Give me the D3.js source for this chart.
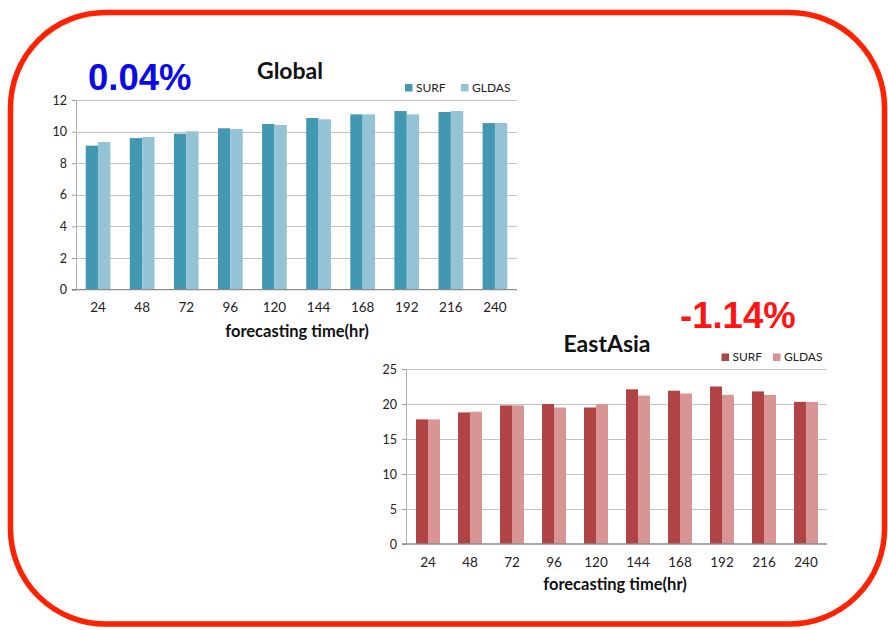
<!DOCTYPE html>
<html>
<head>
<meta charset="utf-8">
<script src="https://cdn.jsdelivr.net/npm/d3@7"></script>
<style>
  html, body { margin: 0; padding: 0; background: #fff; }
  svg { display: block; }
</style>
</head>
<body>
<svg id="chart" width="888" height="630"></svg>
<script>
// ---- data ----
const categories = ["24","48","72","96","120","144","168","192","216","240"];
const seriesNames = ["SURF","GLDAS"];
const globalSURF  = [9.11, 9.59, 9.87, 10.21, 10.48, 10.86, 11.09, 11.30, 11.24, 10.54];
const globalGLDAS = [9.34, 9.66, 10.02, 10.16, 10.42, 10.78, 11.09, 11.09, 11.30, 10.54];
const eastSURF    = [17.8, 18.8, 19.8, 20.0, 19.5, 22.1, 21.9, 22.5, 21.8, 20.3];
const eastGLDAS   = [17.8, 18.9, 19.8, 19.5, 20.0, 21.2, 21.5, 21.3, 21.3, 20.3];
const globalTicks = [0, 2, 4, 6, 8, 10, 12];
const eastTicks   = [0, 5, 10, 15, 20, 25];
const globalPct = "0.04%";
const eastPct = "-1.14%";

const svg = d3.select("#chart");
const FONT = "Lato, 'Open Sans', sans-serif";

// frame
svg.append("rect")
  .attr("x", 10.5).attr("y", 12.5).attr("width", 874).attr("height", 611.5)
  .attr("rx", 95).attr("ry", 95)
  .attr("fill", "#fff").attr("stroke", "#ff2200").attr("stroke-width", 5.5);

function drawChart(cfg) {
  const g = svg.append("g");
  const x0 = d3.scaleBand().domain(categories).range([cfg.left, cfg.right])
    .paddingInner(cfg.pin).paddingOuter(cfg.pout);
  const x1 = d3.scaleBand().domain(seriesNames).range([0, x0.bandwidth()]);
  const y = d3.scaleLinear().domain([0, cfg.max]).range([cfg.bottom, cfg.top]);
  const color = d3.scaleOrdinal().domain(seriesNames).range(cfg.colors);

  // gridlines
  g.append("g").selectAll("line").data(cfg.ticks.filter(t => t > 0)).join("line")
    .attr("x1", cfg.axisX).attr("x2", cfg.right)
    .attr("y1", d => Math.round(y(d)) + 0.5).attr("y2", d => Math.round(y(d)) + 0.5)
    .attr("stroke", "#c4c4c4").attr("stroke-width", 1.2);

  // y axis
  const yAxis = d3.axisLeft(y).tickValues(cfg.ticks).tickSize(4).tickPadding(5);
  const ya = g.append("g").attr("transform", `translate(${cfg.axisX},0)`).call(yAxis);
  ya.select(".domain").attr("stroke", "#b0b0b0");
  ya.selectAll(".tick line").attr("stroke", "#a0a0a0");
  ya.selectAll(".tick text").attr("font-family", FONT).attr("font-size", 12.5).attr("fill", "#222");

  // bars
  const rows = categories.map((c, i) => ({ cat: c, vals: [cfg.a[i], cfg.b[i]] }));
  g.append("g").selectAll("g").data(rows).join("g")
    .attr("transform", d => `translate(${x0(d.cat)},0)`)
    .selectAll("rect").data(d => d.vals.map((v, j) => ({ key: seriesNames[j], v })))
    .join("rect")
    .attr("x", d => x1(d.key)).attr("width", x1.bandwidth())
    .attr("y", d => y(d.v)).attr("height", d => y(0) - y(d.v))
    .attr("fill", d => color(d.key));

  // x axis
  const xAxis = d3.axisBottom(x0).tickSize(0).tickPadding(13);
  const xa = g.append("g").attr("transform", `translate(0,${y(0)})`).call(xAxis);
  xa.select(".domain").remove();
  g.append("line").attr("x1", cfg.axisX - 4).attr("x2", cfg.right)
    .attr("y1", y(0)).attr("y2", y(0)).attr("stroke", "#8c8c8c").attr("stroke-width", 1.3);
  xa.selectAll(".tick text").attr("font-family", FONT).attr("font-size", 13.5).attr("fill", "#222");

  // axis title
  g.append("text").attr("x", cfg.xTitleX).attr("y", cfg.xTitleY).attr("text-anchor", "middle")
    .attr("font-family", FONT).attr("font-weight", "bold").attr("font-size", 16.5).attr("fill", "#111")
    .text("forecasting time(hr)");

  // title
  g.append("text").attr("x", cfg.titleX).attr("y", cfg.titleY).attr("text-anchor", "middle")
    .attr("font-family", FONT).attr("font-weight", "bold").attr("font-size", 23).attr("fill", "#111")
    .text(cfg.title);

  // legend
  const lg = g.append("g").selectAll("g").data(seriesNames).join("g")
    .attr("transform", (d, i) => `translate(${cfg.legendX[i]},${cfg.legendY})`);
  lg.append("rect").attr("x", 0).attr("y", -7.5).attr("width", 7.5).attr("height", 7.5)
    .attr("fill", d => color(d));
  lg.append("text").attr("x", 11).attr("y", 0).attr("font-family", FONT).attr("font-size", 12)
    .attr("fill", "#222").text(d => d);

  // percentage
  g.append("text").attr("x", cfg.pctX).attr("y", cfg.pctY)
    .attr("font-family", "'Liberation Sans', Arial, sans-serif").attr("font-weight", "bold")
    .attr("font-size", 36.5).attr("fill", cfg.pctColor).text(cfg.pct);
}

drawChart({
  a: globalSURF, b: globalGLDAS, ticks: globalTicks, max: 12,
  left: 76, right: 517, axisX: 76, top: 100, bottom: 289.6, pin: 0.44, pout: 0.22,
  colors: ["#4298b0", "#93c3d5"],
  title: "Global", titleX: 290, titleY: 79,
  xTitleX: 297, xTitleY: 337,
  legendX: [405, 461], legendY: 91.5,
  pct: globalPct, pctX: 88, pctY: 90, pctColor: "#0a0ae6"
});

drawChart({
  a: eastSURF, b: eastGLDAS, ticks: eastTicks, max: 25,
  left: 407, right: 827, axisX: 406, top: 369, bottom: 544, pin: 0.43, pout: 0.215,
  colors: ["#b04343", "#d99494"],
  title: "EastAsia", titleX: 607, titleY: 352,
  xTitleX: 615, xTitleY: 590,
  legendX: [721.5, 773], legendY: 361,
  pct: eastPct, pctX: 680, pctY: 328, pctColor: "#ff1414"
});
</script>
</body>
</html>
